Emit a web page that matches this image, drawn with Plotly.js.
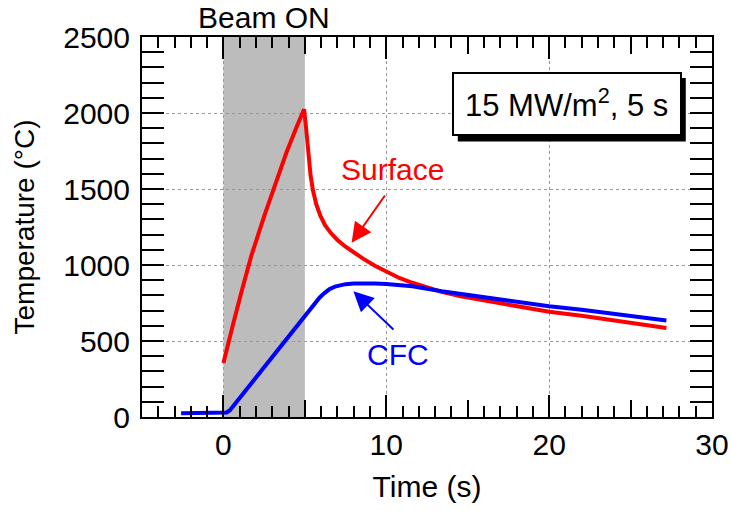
<!DOCTYPE html>
<html>
<head>
<meta charset="utf-8">
<script src="https://cdn.plot.ly/plotly-3.0.1.min.js"></script>
<style>html,body{margin:0;padding:0;background:#fff;}#chart{width:731px;height:511px;}</style>
</head>
<body>
<div id="chart"></div>
<script>
// Surface temperature (red)
const surfaceTime = [0, 0.23, 0.57, 1.09, 1.71, 2.53, 3.15, 3.87, 4.5, 4.95, 5.05, 5.15, 5.25, 5.35, 5.5, 5.7, 5.95, 6.25, 6.6, 7.0, 7.5, 8.0, 8.6, 9.3, 10.0, 10.8, 11.6, 12.5, 13.4, 14.5, 15.8, 17.6, 19.0, 20.0, 22.0, 24.5, 27.2];
const surfaceTemp = [355, 465, 600, 815, 1060, 1330, 1525, 1740, 1910, 2025, 1930, 1800, 1680, 1590, 1490, 1400, 1325, 1260, 1210, 1165, 1120, 1080, 1040, 995, 955, 915, 883, 852, 823, 795, 770, 742, 710, 692, 666, 624, 585];
// CFC temperature (blue)
const cfcTime = [-2.6, 0.0, 0.2, 0.4, 1.5, 2.5, 3.55, 4.4, 5.0, 5.3, 5.6, 5.9, 6.2, 6.5, 6.85, 7.2, 7.5, 8.0, 8.6, 9.3, 10.0, 11.6, 13.4, 15.8, 17.6, 20.0, 22.0, 24.5, 27.2];
const cfcTemp = [25, 25, 30, 45, 195, 330, 468, 580, 663, 705, 748, 785, 815, 840, 858, 868, 874, 879, 880, 878, 875, 860, 827, 790, 765, 728, 706, 672, 635];
const xTickVals = [0, 10, 20, 30];
const yTickVals = [0, 500, 1000, 1500, 2000, 2500];
const beamOn = [0, 5];

const FONT = 'Arial, "Liberation Sans", Helvetica, sans-serif';
const traces = [
  {x: surfaceTime, y: surfaceTemp, mode: 'lines', line: {color: '#ff0000', width: 4}, showlegend: false, hoverinfo: 'skip'},
  {x: cfcTime, y: cfcTemp, mode: 'lines', line: {color: '#0000ff', width: 4}, showlegend: false, hoverinfo: 'skip'},
  {x: [-5], y: [0], xaxis: 'x2', mode: 'markers', marker: {opacity: 0}, showlegend: false, hoverinfo: 'skip'}
];

const layout = {
  width: 731, height: 511,
  margin: {l: 142, r: 19, t: 37, b: 94},
  paper_bgcolor: '#fff', plot_bgcolor: '#fff',
  font: {family: FONT, color: '#000', size: 30},
  xaxis: {
    range: [-5, 30], tickvals: xTickVals, ticks: 'inside', ticklen: 22, tickwidth: 2, tickcolor: '#000',
    showline: true, linewidth: 2, linecolor: '#000', mirror: 'allticks',
    showgrid: true, gridcolor: '#999', griddash: 'dot', gridwidth: 1, zeroline: false,
    minor: {ticks: 'inside', ticklen: 11, dtick: 1, tick0: 0, tickwidth: 2, tickcolor: '#000', showgrid: false},
    tickfont: {size: 30}, title: {text: 'Time (s)', font: {size: 30}, standoff: 16}
  },
  xaxis2: {
    overlaying: 'x', anchor: 'y', range: [-5, 30], dtick: 5, tick0: 0, ticks: 'inside', ticklen: 17, tickwidth: 2, tickcolor: '#000',
    showticklabels: false, showgrid: false, zeroline: false, showline: false, mirror: 'allticks'
  },
  yaxis: {
    range: [0, 2500], tickvals: yTickVals, ticks: 'inside', ticklen: 22, tickwidth: 2, tickcolor: '#000',
    showline: true, linewidth: 2, linecolor: '#000', mirror: 'allticks',
    showgrid: true, gridcolor: '#999', griddash: 'dot', gridwidth: 1, zeroline: false,
    minor: {ticks: 'inside', ticklen: 11, dtick: 100, tick0: 0, tickwidth: 2, tickcolor: '#000', showgrid: false},
    tickfont: {size: 30}, ticklabelstandoff: 4,
    title: {text: 'Temperature (°C)', font: {size: 28}, standoff: 20}
  },
  shapes: [
    {type: 'rect', xref: 'x', yref: 'paper', x0: beamOn[0], x1: beamOn[1], y0: 0, y1: 1, fillcolor: '#bcbcbc', line: {width: 0}, layer: 'below'},
    {type: 'rect', xref: 'paper', yref: 'paper', x0: 0.554, x1: 0.954, y0: 0.725, y1: 0.892, fillcolor: '#000', line: {width: 0}},
    {type: 'rect', xref: 'paper', yref: 'paper', x0: 0.5456, x1: 0.9456, y0: 0.742, y1: 0.905, fillcolor: '#fff', line: {color: '#000', width: 2}}
  ],
  annotations: [
    {text: 'Beam ON', xref: 'x', yref: 'paper', x: 2.5, y: 1.0526, yanchor: 'middle', showarrow: false, font: {size: 30, color: '#000'}},
    {text: '15 MW/m<sup>2</sup>, 5 s', xref: 'paper', yref: 'paper', x: 0.7456, y: 0.826, xanchor: 'center', yanchor: 'middle', showarrow: false, font: {size: 31, color: '#000'}},
    {text: 'Surface', xref: 'x', yref: 'y', x: 10.37, y: 1629, showarrow: false, font: {size: 30, color: '#ff0000'}},
    {text: 'CFC', xref: 'x', yref: 'y', x: 10.74, y: 409, showarrow: false, font: {size: 30, color: '#0000ff'}},
    {text: ' ', xref: 'x', yref: 'y', x: 7.87, y: 1146, axref: 'x', ayref: 'y', ax: 10.04, ay: 1476, showarrow: true, arrowhead: 2, arrowsize: 2, arrowwidth: 2, arrowcolor: '#ff0000', font: {size: 4}},
    {text: ' ', xref: 'x', yref: 'y', x: 7.98, y: 827, axref: 'x', ayref: 'y', ax: 10.56, ay: 563, showarrow: true, arrowhead: 2, arrowsize: 2, arrowwidth: 2, arrowcolor: '#0000ff', font: {size: 4}}
  ]
};

Plotly.newPlot('chart', traces, layout, {staticPlot: true, displayModeBar: false});
</script>
</body>
</html>
